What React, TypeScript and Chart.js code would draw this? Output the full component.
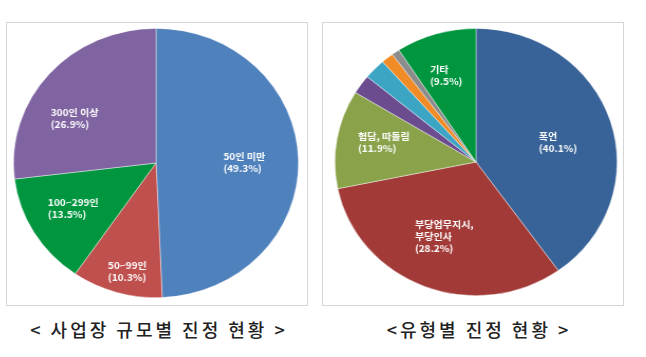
import React, { useEffect, useRef } from "react";
import { Chart, registerables } from "chart.js";

Chart.register(...registerables);

// ---- Data: 사업장 규모별 진정 현황 ----
const sizeCategories = ["50인 미만", "50~99인", "100~299인", "300인 이상"];
const sizeShares = [49.3, 10.3, 13.5, 26.9];
const sizeLabelLines = [
  ["50인 미만", "(49.3%)"],
  ["50~99인", "(10.3%)"],
  ["100~299인", "(13.5%)"],
  ["300인 이상", "(26.9%)"],
];

// ---- Data: 유형별 진정 현황 (slice sizes as drawn; printed labels below) ----
const typeCategories = ["폭언", "부당업무지시, 부당인사", "험담, 따돌림", "기타a", "기타b", "기타c", "기타d", "기타"];
const typeShares = [40.1, 31.7, 11.9, 2.3, 2.5, 1.4, 0.9, 9.2];
const typeLabelLines = [
  ["폭언", "(40.1%)"],
  ["부당업무지시,", "부당인사", "(28.2%)"],
  ["험담, 따돌림", "(11.9%)"],
  [],
  [],
  [],
  [],
  ["기타", "(9.5%)"],
];

const leftTitle = "< 사업장 규모별 진정 현황 >";
const rightTitle = "<유형별 진정 현황 >";

// ---- Styles ----
const sizeColors = ["#4F81BD", "#C0504D", "#00963F", "#8064A2"];
const typeColors = ["#386398", "#A23B38", "#8AA34B", "#6A4C8F", "#3CA5C4", "#F18B26", "#8C8C8C", "#00963F"];
const sizeLabelRadius = [0.62, 0.83, 0.67, 0.66];
const sizeLabelShift = [1, -2, 1.2, -11.5];
const typeLabelRadius = [0.6, 0.6, 0.67, 0, 0, 0, 0, 0.68];
const typeLabelShift = [3.3, 0.6, 3, 0, 0, 0, 0, -1.5];

const LABEL_FONT = "bold 9.5px 'Noto Sans CJK KR', 'Noto Sans', sans-serif";

function makeLabelPlugin(lines: string[][], fracs: number[], shifts: number[]) {
  return {
    id: "sliceLabels",
    afterDatasetsDraw(chart: any) {
      const ctx = chart.ctx;
      const meta = chart.getDatasetMeta(0);
      ctx.save();
      ctx.font = LABEL_FONT;
      ctx.fillStyle = "#ffffff";
      ctx.textBaseline = "middle";
      ctx.textAlign = "left";
      meta.data.forEach((arc: any, i: number) => {
        const ls = lines[i];
        if (!ls || !ls.length) return;
        const p = arc.getProps(["x", "y", "startAngle", "endAngle", "outerRadius"], true);
        const mid = (p.startAngle + p.endAngle) / 2 + (shifts[i] * Math.PI) / 180;
        const r = p.outerRadius * fracs[i];
        const cx = p.x + Math.cos(mid) * r;
        const cy = p.y + Math.sin(mid) * r;
        const w = Math.max(...ls.map((l) => ctx.measureText(l).width));
        const lh = 12;
        const top = cy - ((ls.length - 1) * lh) / 2;
        ls.forEach((l, k) => ctx.fillText(l, cx - w / 2, top + k * lh));
      });
      ctx.restore();
    },
  };
}

function PieCanvas(props: {
  categories: string[];
  values: number[];
  colors: string[];
  lines: string[][];
  fracs: number[];
  shifts: number[];
  size: number;
}) {
  const ref = useRef<HTMLCanvasElement | null>(null);
  useEffect(() => {
    if (!ref.current) return;
    const chart = new Chart(ref.current, {
      type: "pie",
      data: {
        labels: props.categories,
        datasets: [
          {
            data: props.values,
            backgroundColor: props.colors,
            borderColor: "rgba(255,255,255,0.55)",
            borderWidth: 0.75,
          },
        ],
      },
      options: {
        animation: false,
        responsive: false,
        maintainAspectRatio: false,
        layout: { padding: 0 },
        plugins: { legend: { display: false }, tooltip: { enabled: false } },
      },
      plugins: [makeLabelPlugin(props.lines, props.fracs, props.shifts)],
    } as any);
    return () => chart.destroy();
  }, []);
  return <canvas ref={ref} width={props.size} height={props.size} />;
}

const boxStyle = (left: number): React.CSSProperties => ({
  position: "absolute",
  left,
  top: 22,
  width: 300,
  height: 282,
  border: "1px solid #d6d6d6",
  background: "#fff",
});

const pieWrap = (cx: number, cy: number, size: number, sx: number): React.CSSProperties => ({
  position: "absolute",
  left: cx - size / 2,
  top: cy - size / 2,
  width: size,
  height: size,
  transform: `scaleX(${sx})`,
  transformOrigin: "50% 50%",
});

const titleStyle = (left: number): React.CSSProperties => ({
  position: "absolute",
  left,
  top: 318,
  width: 300,
  textAlign: "center",
  fontFamily: "'Noto Sans CJK KR', sans-serif",
  fontSize: 18,
  fontWeight: 500,
  letterSpacing: 3,
  color: "#222",
  whiteSpace: "pre",
  lineHeight: "22px",
});

export default function App() {
  return (
    <div style={{ position: "absolute", left: 0, top: 0, width: 646, height: 357, background: "#fff", overflow: "hidden" }}>
      <div style={boxStyle(6)} />
      <div style={boxStyle(322)} />
      <div style={pieWrap(156, 163, 270, 1.058)}>
        <PieCanvas
          categories={sizeCategories}
          values={sizeShares}
          colors={sizeColors}
          lines={sizeLabelLines}
          fracs={sizeLabelRadius}
          shifts={sizeLabelShift}
          size={270}
        />
      </div>
      <div style={pieWrap(476, 162, 268, 1.056)}>
        <PieCanvas
          categories={typeCategories}
          values={typeShares}
          colors={typeColors}
          lines={typeLabelLines}
          fracs={typeLabelRadius}
          shifts={typeLabelShift}
          size={268}
        />
      </div>
      <div style={titleStyle(9)}>{leftTitle}</div>
      <div style={titleStyle(329)}>{rightTitle}</div>
    </div>
  );
}
